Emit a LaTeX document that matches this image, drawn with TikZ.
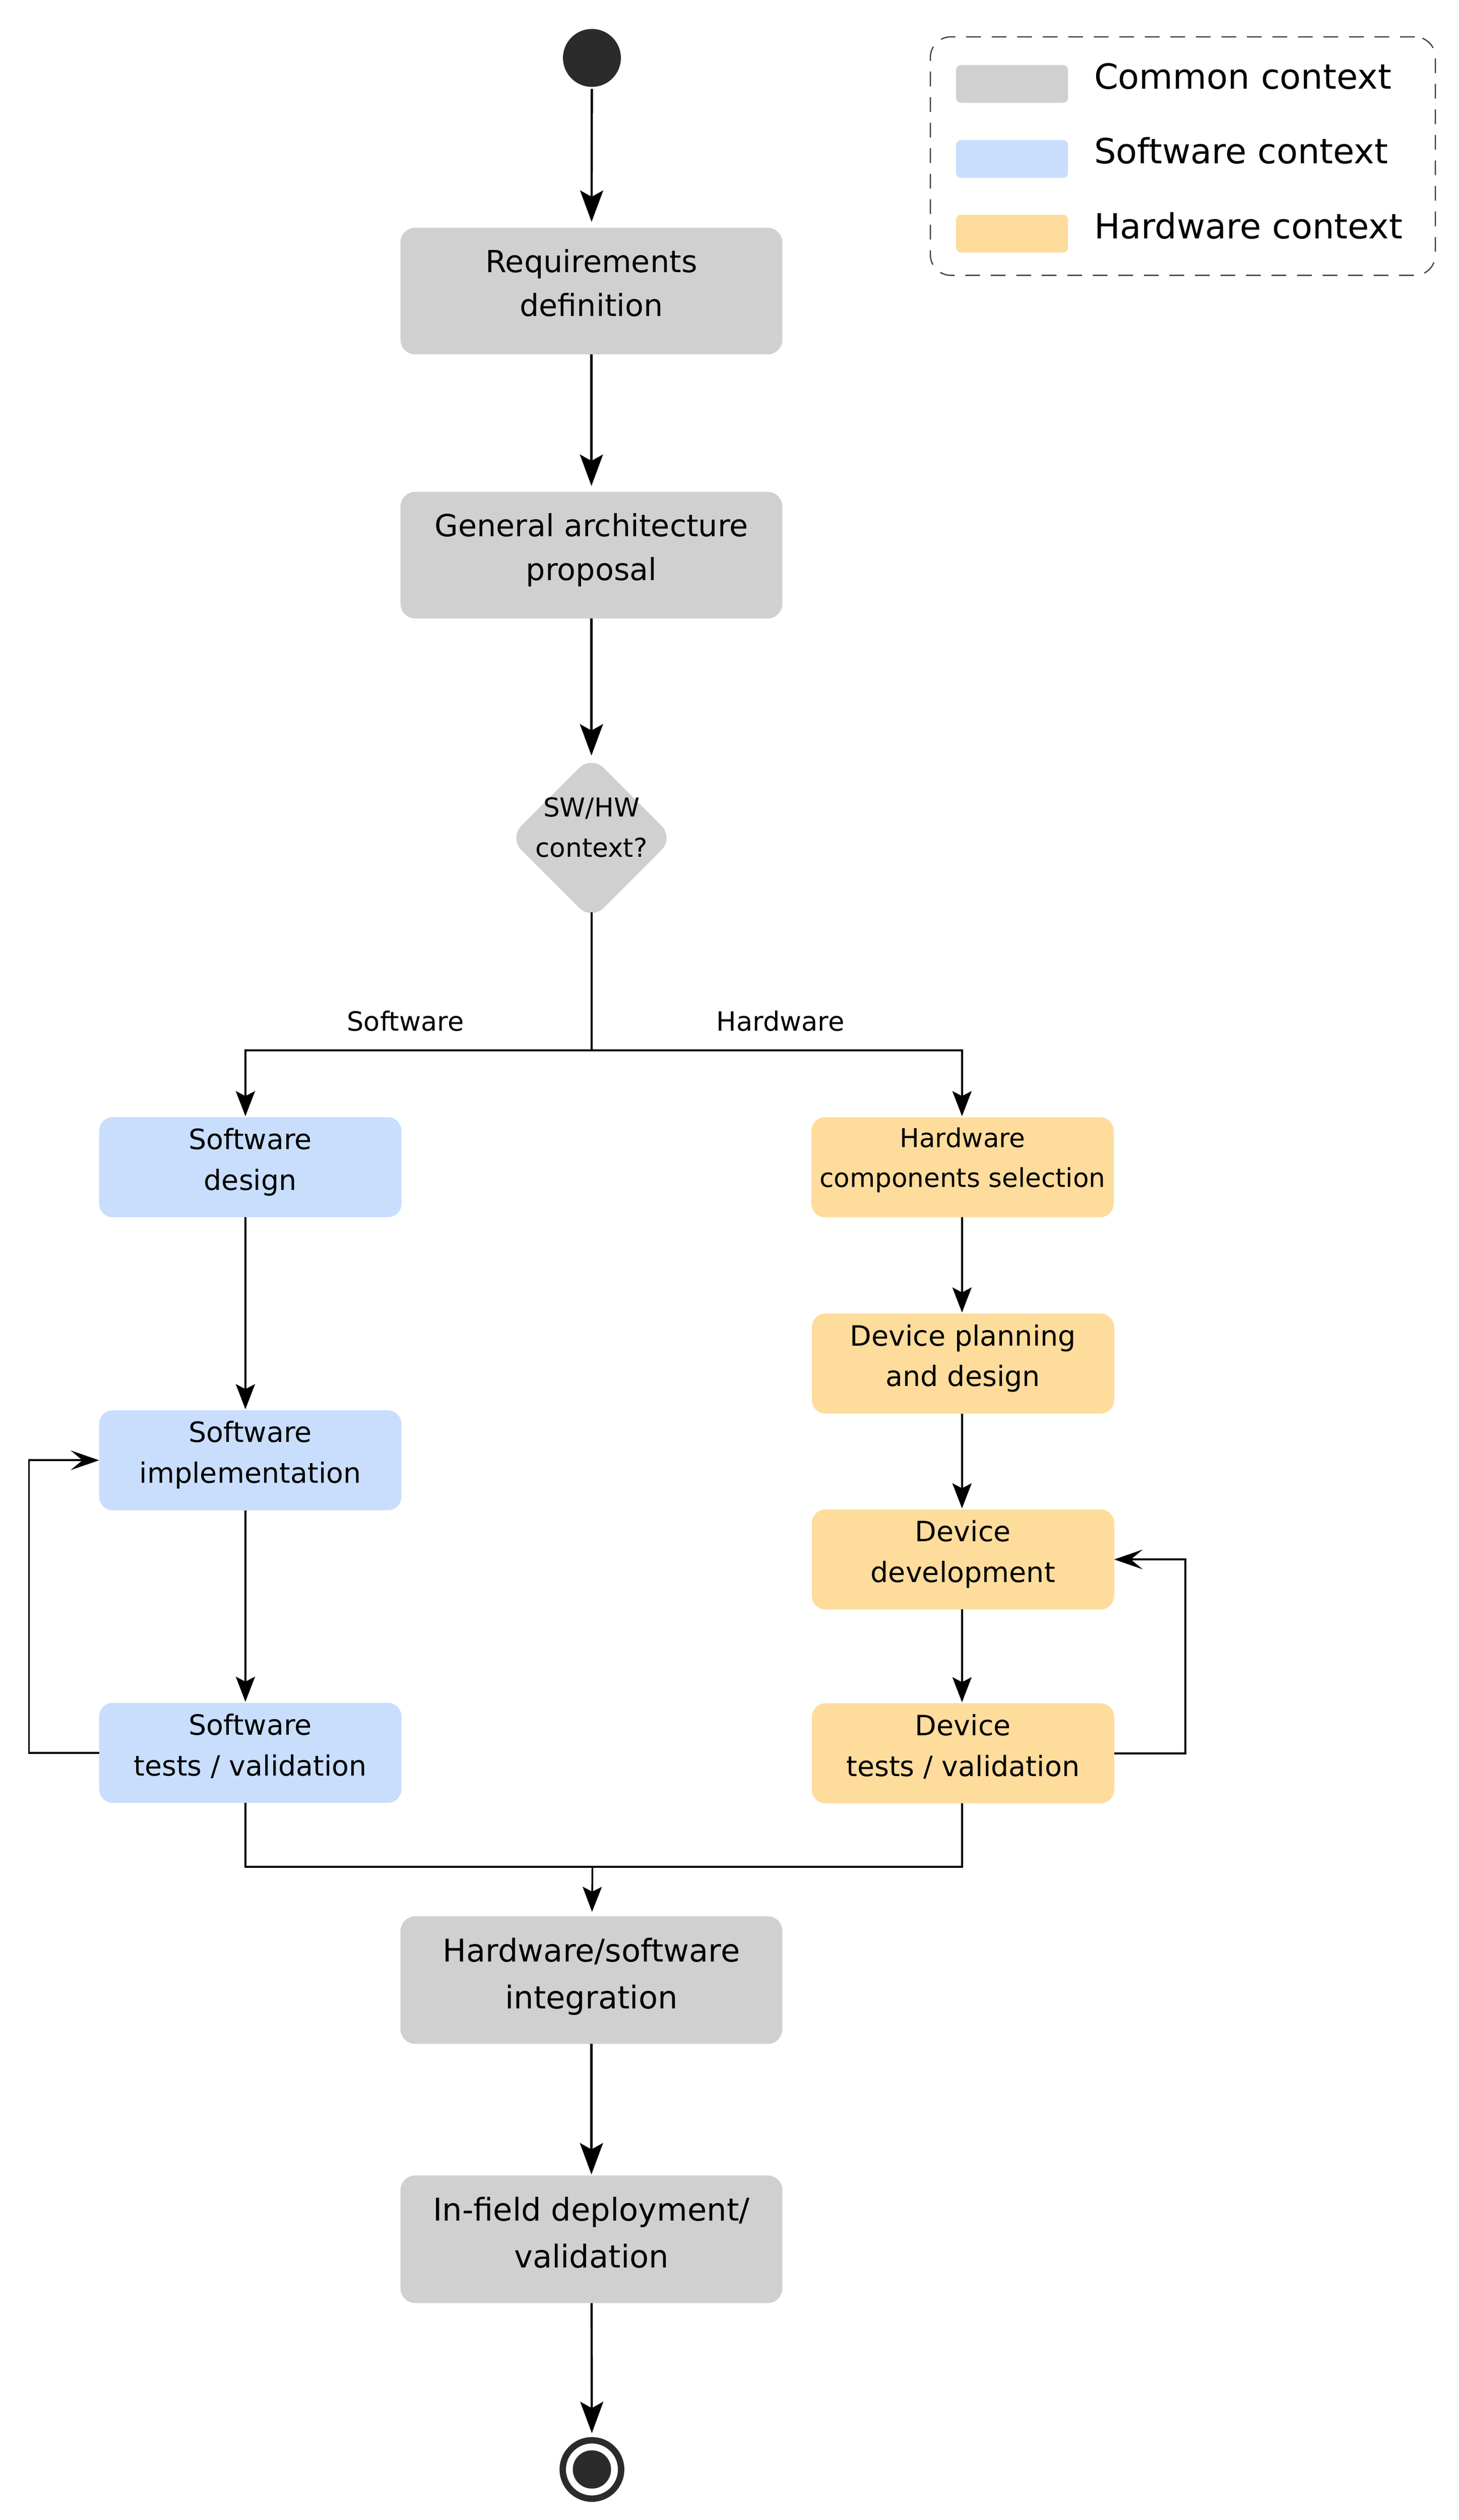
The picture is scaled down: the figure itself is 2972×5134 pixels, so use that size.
\documentclass[tikz,border=0pt]{standalone}
\usepackage{fontspec}
\setmainfont{DejaVu Sans}
\usetikzlibrary{arrows.meta,shapes.geometric,calc}
\definecolor{cgray}{HTML}{D0D0D0}
\definecolor{cblue}{HTML}{C9DEFC}
\definecolor{corange}{HTML}{FEDC9C}
\definecolor{cdark}{HTML}{2B2B2B}
\definecolor{cdash}{HTML}{404040}
\begin{document}
\begin{tikzpicture}[x=1pt,y=-1pt,
  box/.style={rounded corners=30pt, inner sep=0pt, outer sep=0pt, align=center},
  struts/.style 2 args={execute at begin node={\rule{0pt}{#1pt}}, execute at end node={\rule[-#2pt]{0pt}{#2pt}}},
  cbox/.style={box, fill=cgray, minimum width=778pt, minimum height=258pt, font=\fontsize{62}{90}\selectfont, struts={50}{34}},
  ibox/.style={box, fill=cgray, minimum width=778pt, minimum height=260pt, font=\fontsize{64}{96}\selectfont, struts={52}{28}},
  sbox/.style={box, fill=cblue, minimum width=616pt, minimum height=204pt, rounded corners=28pt, font=\fontsize{57}{83}\selectfont, struts={46}{33}},
  hbox/.style={sbox, fill=corange},
  lbl/.style={inner sep=0pt, font=\fontsize{54}{64}\selectfont},
  mainarr/.style={line width=4.5pt, shorten >=12pt, -{Stealth[length=64pt,width=47pt,inset=13pt]}},
  smallarr/.style={line width=4pt, shorten >=2pt, -{Stealth[length=51pt,width=39pt,inset=10pt]}},
  looparr/.style={line width=4pt, -{Stealth[length=58pt,width=40pt,inset=24pt]}},
  plain/.style={line width=4pt},
  swatch/.style={rounded corners=10pt, minimum width=228pt, minimum height=77pt, inner sep=0pt},
  legtxt/.style={anchor=base west, inner sep=0pt, font=\fontsize{70.5}{84}\selectfont},
]
\useasboundingbox (0,0) rectangle (2972,5134);

% legend
\node[draw=cdash, line width=2.5pt, dash pattern=on 30pt off 22pt, rounded corners=42pt,
      minimum width=1029pt, minimum height=486pt, inner sep=0pt] (legend) at (2410,318) {};
\node[swatch, fill=cgray] (sw1) at (2062,171) {};
\node[swatch, fill=cblue] (sw2) at (2062,324) {};
\node[swatch, fill=corange] (sw3) at (2062,476) {};
\node[legtxt] (lt1) at (2229,181) {Common context};
\node[legtxt] (lt2) at (2229,333) {Software context};
\node[legtxt] (lt3) at (2229,486) {Hardware context};

% main column
\node[circle, fill=cdark, minimum size=118pt, inner sep=0pt] (start) at (1206,118) {};
\node[cbox] (req) at (1205,593) {Requirements\\definition};
\node[cbox] (gen) at (1205,1131) {General architecture\\proposal};
\node[diamond, fill=cgray, minimum size=335pt, inner sep=0pt, rounded corners=35pt] (dec) at (1205,1707) {};
\node[inner sep=0pt, align=center, font=\fontsize{53}{82}\selectfont] (dectxt) at (1205,1686) {SW/HW\\context?};

% software column
\node[sbox] (sd) at (510,2378) {Software\\design};
\node[sbox] (si) at (510,2975) {Software\\implementation};
\node[sbox] (st) at (510,3571) {Software\\tests / validation};

% hardware column
\node[hbox, font=\fontsize{53}{81}\selectfont, struts={43}{40}] (hc) at (1961,2378) {Hardware\\components selection};
\node[hbox] (dp) at (1962,2778) {Device planning\\and design};
\node[hbox] (dd) at (1962,3177) {Device\\development};
\node[hbox] (dt) at (1962,3572) {Device\\tests / validation};

% bottom
\node[ibox] (integ) at (1205,4034) {Hardware/software\\integration};
\node[ibox] (dep) at (1205,4562) {In-field deployment/\\validation};
\node[circle, draw=cdark, line width=13pt, fill=white, minimum size=119pt, inner sep=0pt] (endn) at (1206,5031) {};
\node[circle, fill=cdark, minimum size=78pt, inner sep=0pt] (endin) at (endn.center) {};

% helper coordinates
\coordinate (swcol) at (500,0);
\coordinate (hwcol) at (1960,0);
\coordinate (br) at (1205,2140);
\coordinate (mg) at (1207,3803);
\coordinate (swloop) at (59,0);
\coordinate (hwloop) at (2415,0);

% labels
\node[lbl] (swlbl) at (826,2080) {Software};
\node[lbl] (hwlbl) at (1590,2080) {Hardware};

% connectors
\draw[mainarr, shorten <=4pt] (start) -- (req);
\draw[mainarr] (req) -- (gen);
\draw[mainarr, shorten >=0pt] (gen) -- (dec);
\draw[plain] ($(dec.south)+(0,-16)$) -- (br);
\draw[smallarr] (br) -- (br -| swcol) -- (sd.north -| swcol);
\draw[smallarr] (br) -- (br -| hwcol) -- (hc.north -| hwcol);

\draw[smallarr] (sd.south -| swcol) -- (si.north -| swcol);
\draw[smallarr] (si.south -| swcol) -- (st.north -| swcol);
\draw[smallarr] (hc.south -| hwcol) -- (dp.north -| hwcol);
\draw[smallarr] (dp.south -| hwcol) -- (dd.north -| hwcol);
\draw[smallarr] (dd.south -| hwcol) -- (dt.north -| hwcol);

\draw[looparr] (st.west) -- (st.west -| swloop) -- (si.west -| swloop) -- (si.west);
\draw[looparr] (dt.east) -- (dt.east -| hwloop) -- (dd.east -| hwloop) -- (dd.east);

\draw[plain] (st.south -| swcol) -- (mg -| swcol) -- (mg -| hwcol) -- (dt.south -| hwcol);
\draw[smallarr, line width=3.5pt, shorten >=9pt] (mg) -- (integ);

\draw[mainarr, shorten >=2pt] (integ) -- (dep);
\draw[mainarr, shorten >=8pt] (dep) -- (endn);
\end{tikzpicture}
\end{document}
